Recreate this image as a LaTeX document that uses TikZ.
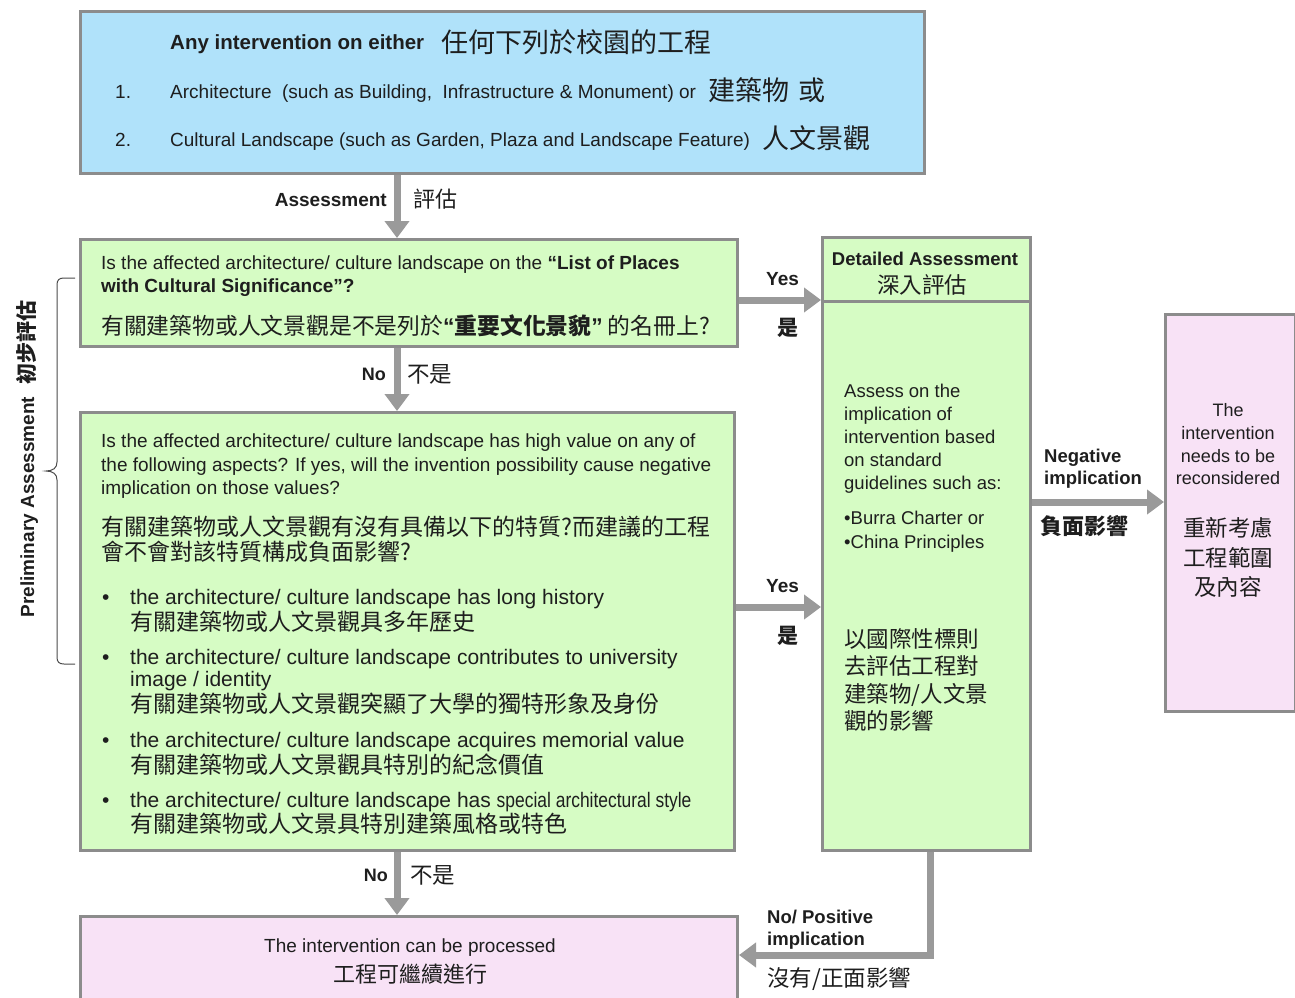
\documentclass[tikz,border=0pt]{standalone}
\usepackage{fontspec}
\setmainfont{Liberation Sans}
\newfontfamily\cjk{Noto Sans CJK TC}
\newfontfamily\narrowf[FakeStretch=0.83]{Liberation Sans}
\usetikzlibrary{arrows.meta,calc}
\definecolor{bxblue}{HTML}{B0E2FA}
\definecolor{bxgreen}{HTML}{D6FCC4}
\definecolor{bxpink}{HTML}{F8E2F6}
\definecolor{bdgray}{HTML}{8C8C8C}
\definecolor{argray}{HTML}{9A9A9A}
\definecolor{txt}{HTML}{1E1E1E}
\newcommand\myfs[1]{\fontsize{#1}{#1}\selectfont}
\tikzset{
  box/.style={draw=bdgray, line width=3pt, anchor=north west, inner sep=0pt},
  flow/.style={draw=argray, line width=7pt, -{Triangle[width=24pt,length=17pt]}},
  tl/.style={anchor=mid west, inner sep=0pt, text=txt, font=\myfs{19}, yshift=-5pt},
  tr/.style={anchor=mid east, inner sep=0pt, text=txt, font=\myfs{19}, yshift=-5pt},
  tc/.style={anchor=mid, inner sep=0pt, text=txt, font=\myfs{19}, yshift=-5pt},
  bl/.style={tl, font=\bfseries\myfs{19}},
  br/.style={tr, font=\bfseries\myfs{19}},
  ck/.style={anchor=mid west, inner sep=0pt, text=txt, font={\cjk\myfs{#1}}, yshift={-0.33*#1}},
  ckb/.style={anchor=mid west, inner sep=0pt, text=txt, font={\cjk\bfseries\myfs{#1}}, yshift={-0.33*#1}},
  ckc/.style={anchor=mid, inner sep=0pt, text=txt, font={\cjk\myfs{#1}}, yshift={-0.33*#1}},
  bul/.style={tl, font=\myfs{21}},
  brace/.style={draw=txt!80, line width=1pt},
}
\begin{document}
\begin{tikzpicture}[x=1pt,y=-1pt]
\useasboundingbox (0,0) rectangle (1295,998);

% boxes
\node[box, fill=bxblue, minimum width=844pt, minimum height=162pt] (top) at (79,10) {};
\node[box, fill=bxgreen, minimum width=657pt, minimum height=107pt] (q1) at (79,238) {};
\node[box, fill=bxgreen, minimum width=654pt, minimum height=438pt] (q2) at (79,411) {};
\node[box, fill=bxpink, minimum width=657pt, minimum height=95pt] (fin) at (79,915) {};
\node[box, fill=bxgreen, minimum width=208pt, minimum height=613pt] (det) at (821,236) {};
\node[box, fill=bxpink, minimum width=130pt, minimum height=397pt] (rec) at (1164,313) {};
\coordinate (hd) at (0,301);
\draw[draw=bdgray, line width=3pt] (det.west |- hd) -- (det.east |- hd);

% connector coordinates
\coordinate (ax) at (397,0);
\coordinate (ry1) at (0,300);
\coordinate (ry2) at (0,607);
\coordinate (ry3) at (0,502);
\coordinate (rx) at (930,0);
\coordinate (ry4) at (0,955);

% connectors
\draw[flow] (top.south -| ax) -- (q1.north -| ax);
\draw[flow] (q1.south -| ax) -- (q2.north -| ax);
\draw[flow] (q2.south -| ax) -- (fin.north -| ax);
\draw[flow] (q1.east |- ry1) -- (det.west |- ry1);
\draw[flow] (q2.east |- ry2) -- (det.west |- ry2);
\draw[flow] (det.east |- ry3) -- (rec.west |- ry3);
\draw[flow, line join=miter] (det.south -| rx) |- (fin.east |- ry4);

% top box text
\node[bl, font=\bfseries\myfs{20.5}] (t0a) at (170,42) {Any intervention on either};
\node[ck=27] (t0b) at (441,41) {任何下列於校園的工程};
\node[tl] (t1n) at (115,91) {1.};
\node[tl] (t1a) at (170,91) {Architecture\ \ (such as Building,\ \ Infrastructure \& Monument) or};
\node[ck=27] (t1b) at (708,89) {建築物\hspace{9pt}或};
\node[tl] (t2n) at (115,139) {2.};
\node[tl] (t2a) at (170,139) {Cultural Landscape (such as Garden, Plaza and Landscape Feature)};
\node[ck=27] (t2b) at (762,137) {人文景觀};

% assessment label
\node[br] (la1) at (387,199) {Assessment};
\node[ck=22] (la2) at (413,198) {評估};

% q1 text
\node[tl] (q1a) at (101,262) {Is the affected architecture/ culture landscape on the {\bfseries “List of Places}};
\node[bl] (q1b) at (101,285) {with Cultural Significance”?};
\node[ck=22.8] (q1c) at (101,324) {有關建築物或人文景觀是不是列於{\rmfamily\bfseries“}{\bfseries 重要文化景貌}{\rmfamily\bfseries”} 的名冊上?};

% no label 1
\node[br, font=\bfseries\myfs{18}] (ln1) at (386,373) {No};
\node[ck=22.5] (ln2) at (407,372) {不是};

% yes labels
\node[bl] (ly1) at (766,278) {Yes};
\node[ckb=21] (ly2) at (777,326) {是};
\node[bl] (ly3) at (766,585) {Yes};
\node[ckb=21] (ly4) at (777,634) {是};

% q2 text
\node[tl] (q2a) at (101,440) {Is the affected architecture/ culture landscape has high value on any of};
\node[tl] (q2b) at (101,464) {the following aspects? If yes, will the invention possibility cause negative};
\node[tl] (q2c) at (101,487) {implication on those values?};
\node[ck=23] (q2d) at (101,525) {有關建築物或人文景觀有沒有具備以下的特質?而建議的工程};
\node[ck=23] (q2e) at (101,550) {會不會對該特質構成負面影響?};

\node[bul] (b1) at (102,597) {•};
\node[bul] (b1a) at (130,597) {the architecture/ culture landscape has long history};
\node[ck=23] (b1b) at (130,620) {有關建築物或人文景觀具多年歷史};
\node[bul] (b2) at (102,657) {•};
\node[bul] (b2a) at (130,657) {the architecture/ culture landscape contributes to university};
\node[bul] (b2b) at (130,679) {image / identity};
\node[ck=23] (b2c) at (130,702) {有關建築物或人文景觀突顯了大學的獨特形象及身份};
\node[bul] (b3) at (102,740) {•};
\node[bul] (b3a) at (130,740) {the architecture/ culture landscape acquires memorial value};
\node[ck=23] (b3b) at (130,763) {有關建築物或人文景觀具特別的紀念價值};
\node[bul] (b4) at (102,800) {•};
\node[bul] (b4a) at (130,800) {the architecture/ culture landscape has {\narrowf special architectural style}};
\node[ck=23] (b4b) at (130,822) {有關建築物或人文景具特別建築風格或特色};

% no label 2
\node[br, font=\bfseries\myfs{18}] (ln3) at (388,874) {No};
\node[ck=22.5] (ln4) at (410,873) {不是};

% final box
\node[tc] (f1) at (410,945) {The intervention can be processed};
\node[ckc=22] (f2) at (410,973) {工程可繼續進行};

% detailed box
\node[tc, font=\bfseries\myfs{18.5}] (d0) at (925,258) {Detailed Assessment};
\node[ckc=22.5] (d00) at (922,283) {深入評估};
\node[tl, font=\myfs{18.5}] (d1) at (844,390) {Assess on the};
\node[tl, font=\myfs{18.5}] (d2) at (844,413) {implication of};
\node[tl, font=\myfs{18.5}] (d3) at (844,436) {intervention based};
\node[tl, font=\myfs{18.5}] (d4) at (844,459) {on standard};
\node[tl, font=\myfs{18.5}] (d5) at (844,482) {guidelines such as:};
\node[tl, font=\myfs{18.5}] (d6) at (844,517) {•Burra Charter or};
\node[tl, font=\myfs{18.5}] (d7) at (844,541) {•China Principles};
\node[ck=22.5] (d8) at (844,637) {以國際性標則};
\node[ck=22.5] (d9) at (844,664) {去評估工程對};
\node[ck=22.5] (d10) at (844,692) {建築物/人文景};
\node[ck=22.5] (d11) at (844,719) {觀的影響};

% negative label
\node[bl, font=\bfseries\myfs{18.5}] (ng1) at (1044,455) {Negative};
\node[bl, font=\bfseries\myfs{18.5}] (ng2) at (1044,477) {implication};
\node[ckb=22] (ng3) at (1040,525) {負面影響};

% reconsider box
\node[tc, font=\myfs{18}] (r1) at (1228,409) {The};
\node[tc, font=\myfs{18}] (r2) at (1228,432) {intervention};
\node[tc, font=\myfs{18}] (r3) at (1228,455) {needs to be};
\node[tc, font=\myfs{18}] (r4) at (1228,477) {reconsidered};
\node[ckc=22.5] (r5) at (1228,526) {重新考慮};
\node[ckc=22.5] (r6) at (1228,556) {工程範圍};
\node[ckc=22.5] (r7) at (1228,585) {及內容};

% no/positive label
\node[bl, font=\bfseries\myfs{18.5}] (np1) at (767,916) {No/ Positive};
\node[bl, font=\bfseries\myfs{18.5}] (np2) at (767,938) {implication};
\node[ck=22.5] (np3) at (767,976) {沒有/正面影響};

% brace
\draw[brace] (75,278) -- (64,278) .. controls (59,278) and (57,280) .. (57,285)
  -- (57,462) .. controls (57,468) and (53,471) .. (46,471)
  .. controls (53,471) and (57,474) .. (57,480)
  -- (57,657) .. controls (57,662) and (59,664) .. (64,664) -- (75,664);

% vertical label
\node[rotate=90, inner sep=0pt, text=txt, anchor=center] (pre) at (27,459)
  {{\bfseries\myfs{19}Preliminary Assessment}\hspace{12pt}{\cjk\bfseries\myfs{21}初步評估}};
\end{tikzpicture}
\end{document}
